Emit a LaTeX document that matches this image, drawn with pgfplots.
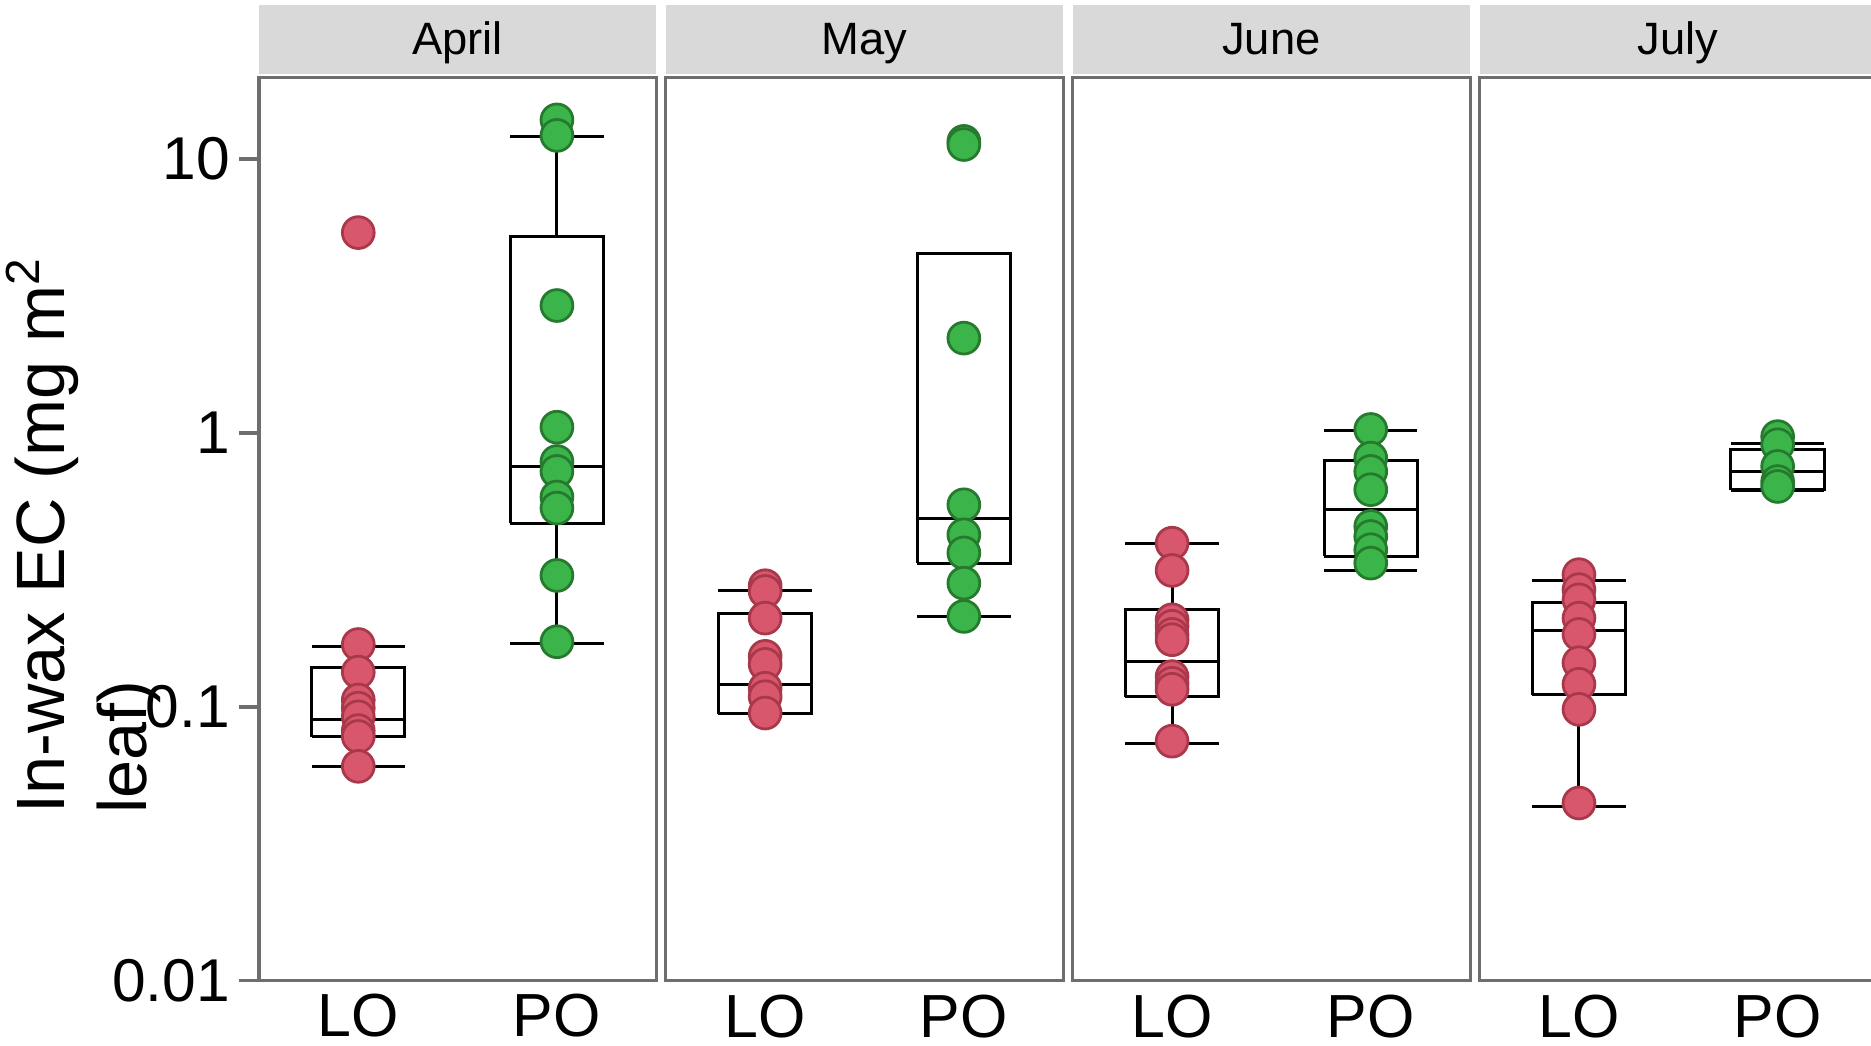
\documentclass[border=0pt]{standalone}
\usepackage{pgfplots}
\pgfplotsset{compat=1.18}
\usepackage{fontspec}
\setmainfont{Liberation Sans}
\definecolor{redfill}{HTML}{D9576C}
\definecolor{rededge}{HTML}{A8384A}
\definecolor{greenfill}{HTML}{3BB54A}
\definecolor{greenedge}{HTML}{257A2E}
\definecolor{stripgray}{HTML}{D9D9D9}
\definecolor{framegray}{HTML}{6E6E6E}
\begin{document}
\begin{tikzpicture}
\path[use as bounding box] (0,0) rectangle (470.4pt,262.8pt);
% ---------------- April
\begin{axis}[scale only axis, width=99.9pt, height=227.1pt, anchor=south west, at={(65.1pt,16.2pt)},
    ymode=log, ymin=0.01, ymax=19.84, xmin=0.5, xmax=2.5,
    xtick={1,2}, xticklabels={LO,PO}, xtick style={draw=none},
    xticklabel style={font=\fontsize{15.3}{18}\selectfont, inner sep=0pt, anchor=north, text depth=0pt, yshift=1.8pt},
    axis line style={draw=framegray, line width=0.8pt}, unbounded coords=jump,
    title={April},
    title style={at={(0.5,1)}, anchor=south, yshift=-5.4pt, fill=stripgray,
      minimum width=99.9pt, minimum height=17.4pt, inner sep=0pt, text height=9pt, text depth=1.5pt,
      font=\fontsize{11.4}{13.8}\selectfont},
    ytick={0.01,0.1,1,10}, yticklabels={0.01,0.1,1,10}, yminorticks=false,
    ytick pos=left, tick align=outside, major tick length=5pt,
    ytick style={draw=framegray, line width=0.8pt},
    yticklabel style={font=\fontsize{15.2}{18}\selectfont, inner sep=0pt, anchor=east, xshift=-2.1pt},
    ylabel={In-wax EC (mg m\textsuperscript{2}\\leaf)},
    ylabel style={at={(axis description cs:-0.638,0.4934)}, anchor=north,
      align=left, inner sep=0pt, font=\fontsize{17.2}{20.7}\selectfont}]
\addplot[black, line width=0.75pt, no marks] coordinates {(0.765,0.0777)(1.235,0.0777)(1.235,0.139)(0.765,0.139)(0.765,0.0777)
 (1,nan) (0.765,0.090)(1.235,0.090) (1,nan) (1,0.139)(1,0.166) (1,nan) (0.765,0.166)(1.235,0.166)
 (1,nan) (1,0.0777)(1,0.0607) (1,nan) (0.765,0.0607)(1.235,0.0607)};
\addplot[black, line width=0.75pt, no marks] coordinates {(1.765,0.469)(2.235,0.469)(2.235,5.21)(1.765,5.21)(1.765,0.469)
 (2,nan) (1.765,0.755)(2.235,0.755) (2,nan) (2,5.21)(2,12.1) (2,nan) (1.765,12.1)(2.235,12.1)
 (2,nan) (2,0.469)(2,0.170) (2,nan) (1.765,0.170)(2.235,0.170)};
\addplot[only marks, mark=*, mark size=4pt, mark options={draw=rededge, fill=redfill, line width=0.7pt}] table {
x y
1 5.39
1 0.169
1 0.134
1 0.106
1 0.099
1 0.092
1 0.082
1 0.078
1 0.0607
};
\addplot[only marks, mark=*, mark size=4pt, mark options={draw=greenedge, fill=greenfill, line width=0.7pt}] table {
x y
2 13.9
2 12.2
2 2.92
2 1.05
2 0.787
2 0.724
2 0.584
2 0.532
2 0.302
2 0.173
};
\end{axis}
% ---------------- May
\begin{axis}[scale only axis, width=99.9pt, height=227.1pt, anchor=south west, at={(167.4pt,16.2pt)},
    ymode=log, ymin=0.01, ymax=19.84, xmin=0.5, xmax=2.5,
    xtick={1,2}, xticklabels={LO,PO}, xtick style={draw=none},
    xticklabel style={font=\fontsize{15.3}{18}\selectfont, inner sep=0pt, anchor=north, text depth=0pt, yshift=-3.3pt},
    ytick=\empty, yminorticks=false,
    axis line style={draw=framegray, line width=0.8pt}, unbounded coords=jump,
    title={May},
    title style={at={(0.5,1)}, anchor=south, yshift=-5.4pt, fill=stripgray,
      minimum width=99.9pt, minimum height=17.4pt, inner sep=0pt, text height=9pt, text depth=1.5pt,
      font=\fontsize{11.4}{13.8}\selectfont}]
\addplot[black, line width=0.75pt, no marks] coordinates {(0.765,0.0945)(1.235,0.0945)(1.235,0.220)(0.765,0.220)(0.765,0.0945)
 (1,nan) (0.765,0.1205)(1.235,0.1205) (1,nan) (1,0.220)(1,0.266) (1,nan) (0.765,0.266)(1.235,0.266)};
\addplot[black, line width=0.75pt, no marks] coordinates {(1.765,0.335)(2.235,0.335)(2.235,4.53)(1.765,4.53)(1.765,0.335)
 (2,nan) (1.765,0.489)(2.235,0.489)
 (2,nan) (2,0.335)(2,0.213) (2,nan) (1.765,0.213)(2.235,0.213)};
\addplot[only marks, mark=*, mark size=4pt, mark options={draw=rededge, fill=redfill, line width=0.7pt}] table {
x y
1 0.277
1 0.264
1 0.211
1 0.153
1 0.143
1 0.117
1 0.109
1 0.095
};
\addplot[only marks, mark=*, mark size=4pt, mark options={draw=greenedge, fill=greenfill, line width=0.7pt}] table {
x y
2 11.6
2 11.3
2 2.22
2 0.547
2 0.425
2 0.365
2 0.283
2 0.214
};
\end{axis}
% ---------------- June
\begin{axis}[scale only axis, width=99.9pt, height=227.1pt, anchor=south west, at={(269.7pt,16.2pt)},
    ymode=log, ymin=0.01, ymax=19.84, xmin=0.5, xmax=2.5,
    xtick={1,2}, xticklabels={LO,PO}, xtick style={draw=none},
    xticklabel style={font=\fontsize{15.3}{18}\selectfont, inner sep=0pt, anchor=north, text depth=0pt, yshift=-3.3pt},
    ytick=\empty, yminorticks=false,
    axis line style={draw=framegray, line width=0.8pt}, unbounded coords=jump,
    title={June},
    title style={at={(0.5,1)}, anchor=south, yshift=-5.4pt, fill=stripgray,
      minimum width=99.9pt, minimum height=17.4pt, inner sep=0pt, text height=9pt, text depth=1.5pt,
      font=\fontsize{11.4}{13.8}\selectfont}]
\addplot[black, line width=0.75pt, no marks] coordinates {(0.765,0.109)(1.235,0.109)(1.235,0.226)(0.765,0.226)(0.765,0.109)
 (1,nan) (0.765,0.147)(1.235,0.147) (1,nan) (1,0.226)(1,0.394) (1,nan) (0.765,0.394)(1.235,0.394)
 (1,nan) (1,0.109)(1,0.0735) (1,nan) (0.765,0.0735)(1.235,0.0735)};
\addplot[black, line width=0.75pt, no marks] coordinates {(1.765,0.355)(2.235,0.355)(2.235,0.794)(1.765,0.794)(1.765,0.355)
 (2,nan) (1.765,0.525)(2.235,0.525) (2,nan) (2,0.794)(2,1.02) (2,nan) (1.765,1.02)(2.235,1.02)
 (2,nan) (2,0.355)(2,0.315) (2,nan) (1.765,0.315)(2.235,0.315)};
\addplot[only marks, mark=*, mark size=4pt, mark options={draw=rededge, fill=redfill, line width=0.7pt}] table {
x y
1 0.396
1 0.315
1 0.208
1 0.197
1 0.184
1 0.176
1 0.129
1 0.122
1 0.116
1 0.075
};
\addplot[only marks, mark=*, mark size=4pt, mark options={draw=greenedge, fill=greenfill, line width=0.7pt}] table {
x y
2 1.03
2 0.81
2 0.724
2 0.621
2 0.456
2 0.419
2 0.375
2 0.335
};
\end{axis}
% ---------------- July
\begin{axis}[scale only axis, width=99.9pt, height=227.1pt, anchor=south west, at={(372pt,16.2pt)},
    ymode=log, ymin=0.01, ymax=19.84, xmin=0.5, xmax=2.5,
    xtick={1,2}, xticklabels={LO,PO}, xtick style={draw=none},
    xticklabel style={font=\fontsize{15.3}{18}\selectfont, inner sep=0pt, anchor=north, text depth=0pt, yshift=-3.3pt},
    ytick=\empty, yminorticks=false,
    axis line style={draw=framegray, line width=0.8pt}, unbounded coords=jump,
    title={July},
    title style={at={(0.5,1)}, anchor=south, yshift=-5.4pt, fill=stripgray,
      minimum width=99.9pt, minimum height=17.4pt, inner sep=0pt, text height=9pt, text depth=1.5pt,
      font=\fontsize{11.4}{13.8}\selectfont}]
\addplot[black, line width=0.75pt, no marks] coordinates {(0.765,0.111)(1.235,0.111)(1.235,0.240)(0.765,0.240)(0.765,0.111)
 (1,nan) (0.765,0.190)(1.235,0.190) (1,nan) (1,0.240)(1,0.290) (1,nan) (0.765,0.290)(1.235,0.290)
 (1,nan) (1,0.111)(1,0.0432) (1,nan) (0.765,0.0432)(1.235,0.0432)};
\addplot[black, line width=0.75pt, no marks] coordinates {(1.765,0.621)(2.235,0.621)(2.235,0.869)(1.765,0.869)(1.765,0.621)
 (2,nan) (1.765,0.724)(2.235,0.724) (2,nan) (2,0.869)(2,0.919) (2,nan) (1.765,0.919)(2.235,0.919)
 (2,nan) (1.765,0.615)(2.235,0.615)};
\addplot[only marks, mark=*, mark size=4pt, mark options={draw=rededge, fill=redfill, line width=0.7pt}] table {
x y
1 0.304
1 0.268
1 0.246
1 0.211
1 0.184
1 0.145
1 0.121
1 0.098
1 0.0446
};
\addplot[only marks, mark=*, mark size=4pt, mark options={draw=greenedge, fill=greenfill, line width=0.7pt}] table {
x y
2 0.97
2 0.906
2 0.755
2 0.665
2 0.638
};
\end{axis}
\end{tikzpicture}
\end{document}
